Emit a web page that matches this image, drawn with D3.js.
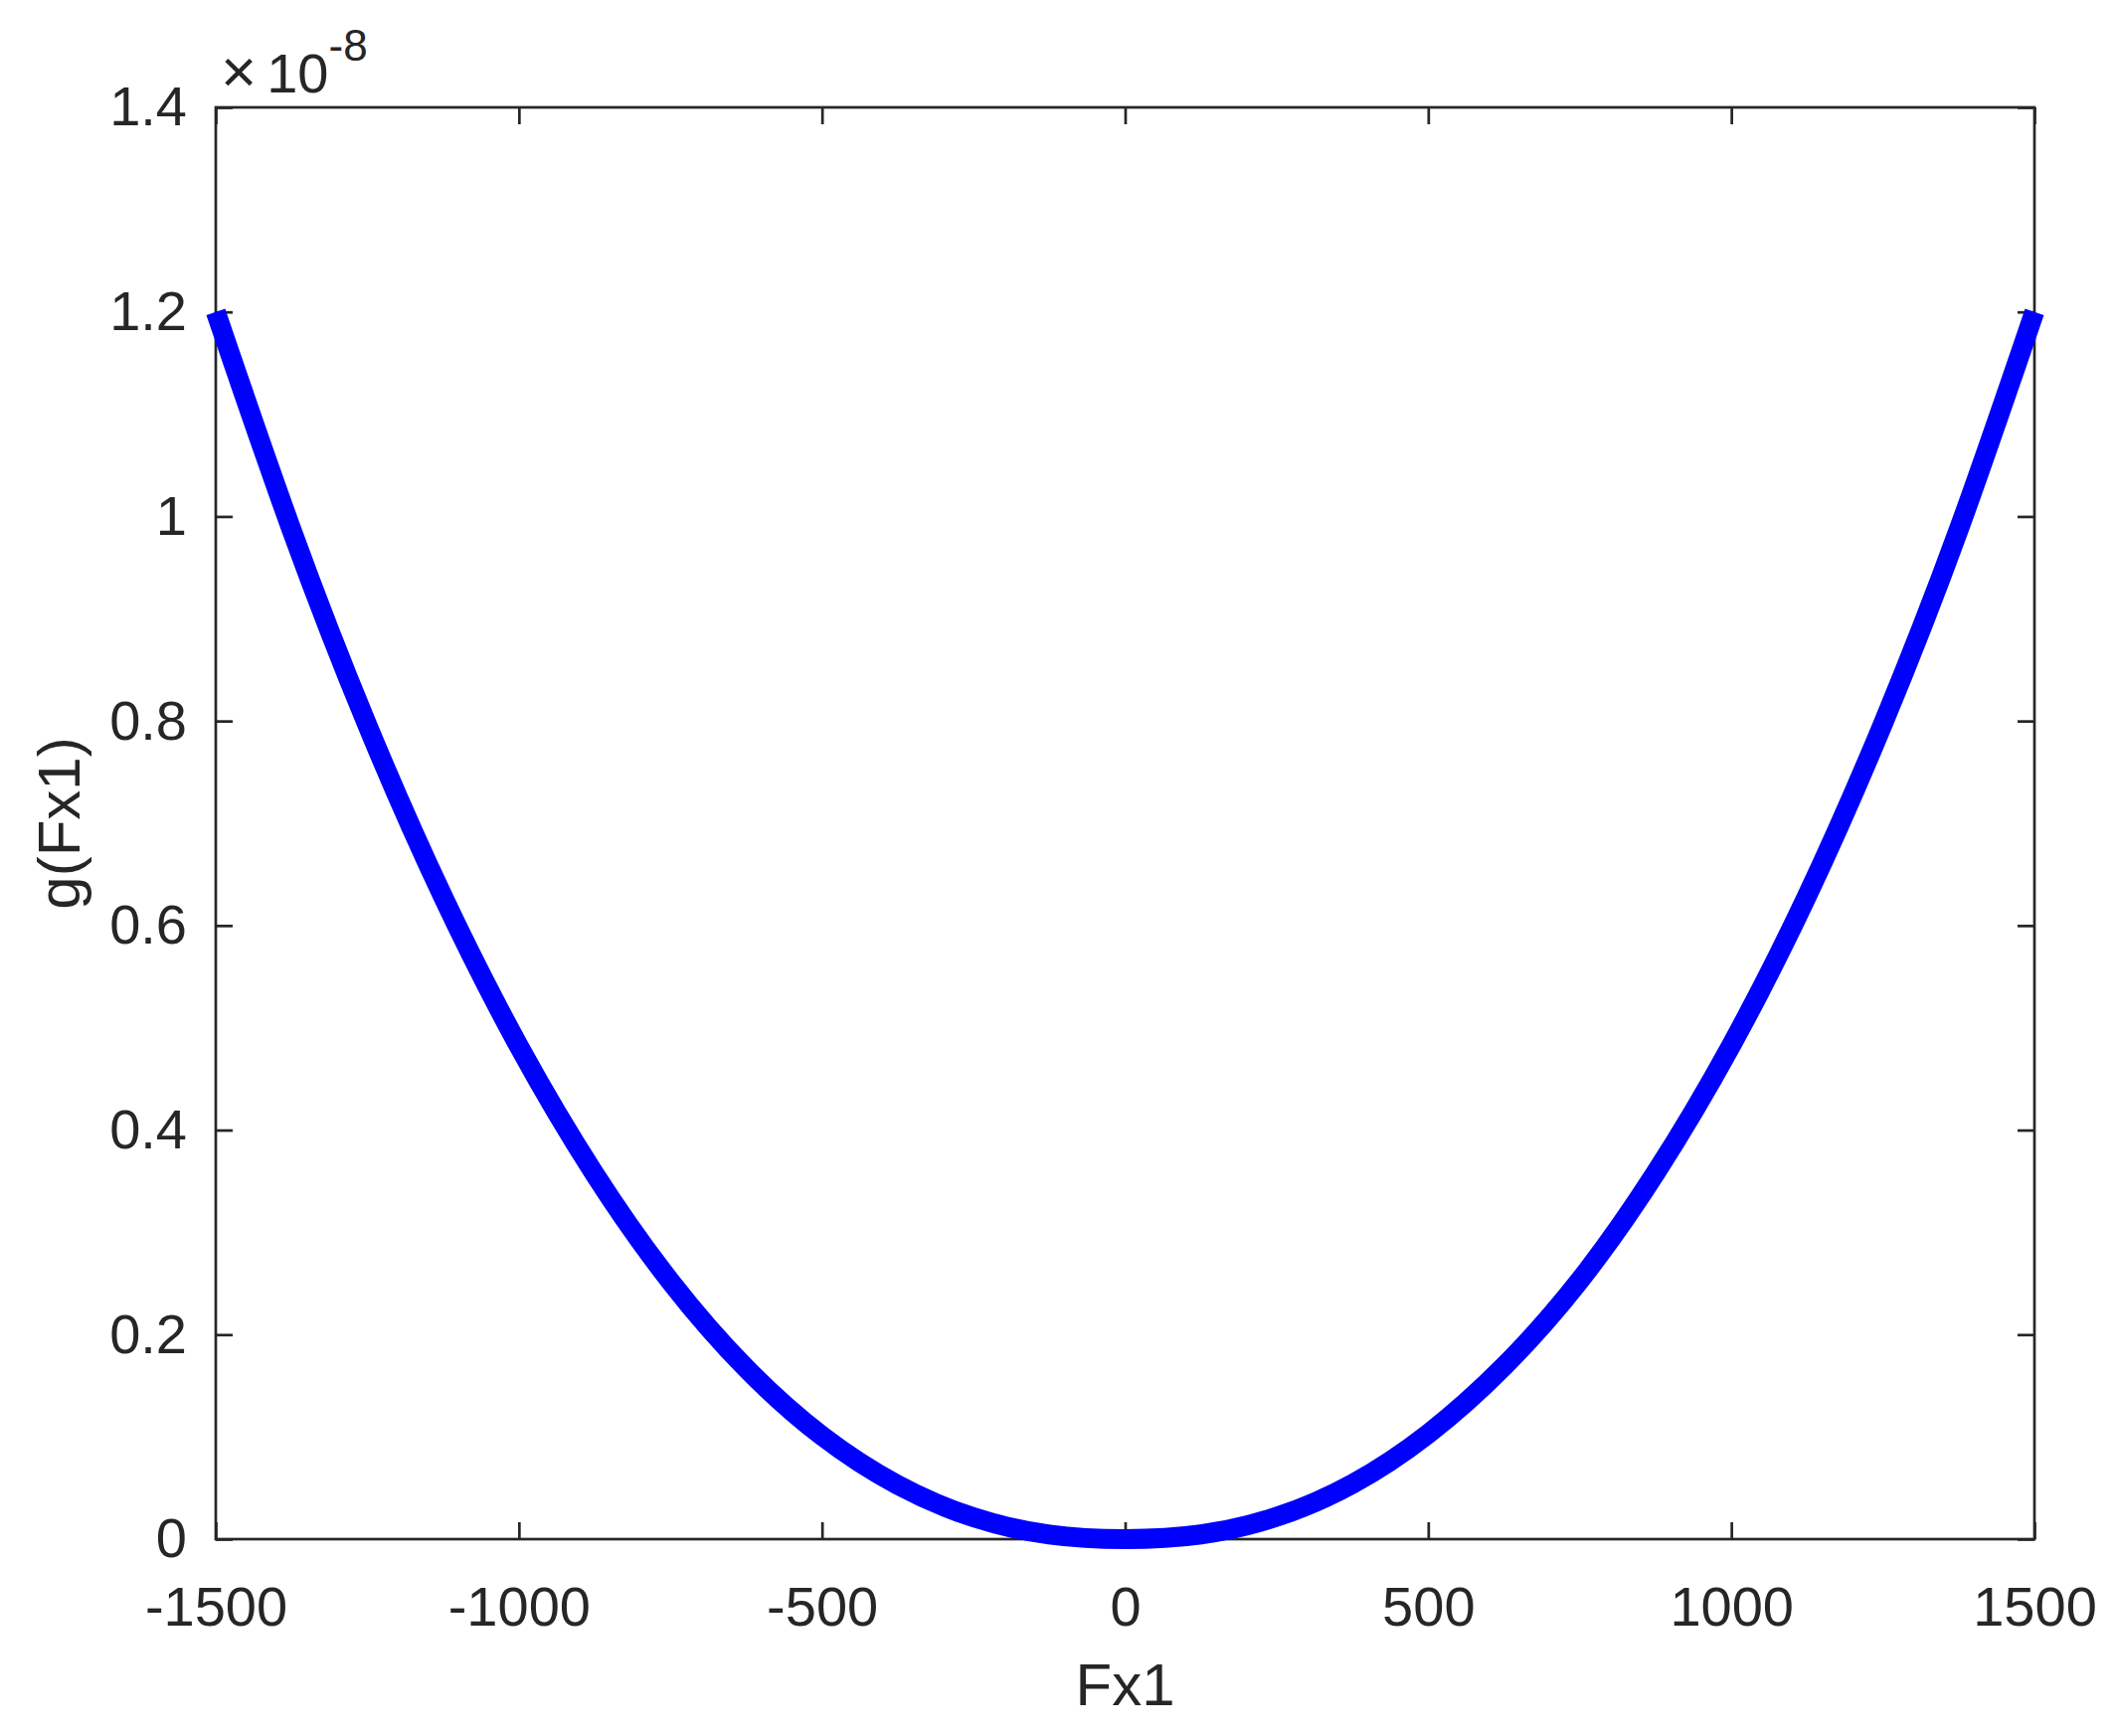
<!DOCTYPE html>
<html>
<head>
<meta charset="utf-8">
<script src="https://cdn.jsdelivr.net/npm/d3@7"></script>
<style>
  body { margin: 0; background: #fff; }
  svg { display: block; font-family: "Liberation Sans", Arial, sans-serif; }
</style>
</head>
<body>
<div id="chart"></div>
<script>
// values, g in units of 1e-8
var fx = [-1500, -1375, -1250, -1125, -1000, -875, -750, -625, -500, -375, -250, -125, 0,
          125, 250, 375, 500, 625, 750, 875, 1000, 1125, 1250, 1375, 1500];
var gv = [1.20, 0.987, 0.796, 0.628, 0.482, 0.357, 0.252, 0.167, 0.101, 0.053, 0.0213, 0.0045, 0,
          0.0046, 0.0218, 0.054, 0.103, 0.169, 0.253, 0.358, 0.483, 0.629, 0.797, 0.987, 1.20];
var xTicks = [-1500, -1000, -500, 0, 500, 1000, 1500];
var yTicks = [0, 0.2, 0.4, 0.6, 0.8, 1, 1.2, 1.4];

var W = 2126, H = 1746;
var margin = {left: 217, right: 80, top: 108, bottom: 198};
var width = W - margin.left - margin.right;
var height = H - margin.top - margin.bottom;
var ink = "#262626";

var svg = d3.select("#chart").append("svg")
    .attr("width", W)
    .attr("height", H);

var g = svg.append("g")
    .attr("transform", "translate(" + margin.left + "," + margin.top + ")");

var x = d3.scaleLinear().domain([-1500, 1500]).range([0, width]);
var y = d3.scaleLinear().domain([0, 1.4]).range([height, 0]);

var tick = 17;

function styleAxis(sel) {
    sel.select(".domain").remove();
    sel.selectAll("line").attr("stroke", ink).attr("stroke-width", 2.7);
    sel.selectAll("text").attr("fill", ink).style("font-size", "56px");
}

// bottom
g.append("g")
    .attr("transform", "translate(0," + height + ")")
    .call(d3.axisBottom(x).tickValues(xTicks).tickSizeInner(-tick).tickSizeOuter(0)
        .tickPadding(47).tickFormat(function(d){ return String(d); }))
    .call(styleAxis);

// top, ticks only
g.append("g")
    .call(d3.axisTop(x).tickValues(xTicks).tickSizeInner(-tick).tickSizeOuter(0).tickFormat(""))
    .call(styleAxis);

// left
g.append("g")
    .call(d3.axisLeft(y).tickValues(yTicks).tickSizeInner(-tick).tickSizeOuter(0)
        .tickPadding(29).tickFormat(function(d){ return d === 0 || d === 1 ? String(d) : d3.format(".1f")(d); }))
    .call(styleAxis);

// right, ticks only
g.append("g")
    .attr("transform", "translate(" + width + ",0)")
    .call(d3.axisRight(y).tickValues(yTicks).tickSizeInner(-tick).tickSizeOuter(0).tickFormat(""))
    .call(styleAxis);

// box
g.append("rect")
    .attr("x", 0).attr("y", 0)
    .attr("width", width).attr("height", height)
    .attr("fill", "none")
    .attr("stroke", ink)
    .attr("stroke-width", 2.7);

// curve
var pts = fx.map(function(d, i){ return [d, gv[i]]; });
var line = d3.line()
    .x(function(d){ return x(d[0]); })
    .y(function(d){ return y(d[1]); })
    .curve(d3.curveNatural);

g.append("path")
    .datum(pts)
    .attr("d", line)
    .attr("fill", "none")
    .attr("stroke", "#0000ff")
    .attr("stroke-width", 20)
    .attr("stroke-linejoin", "round")
    .attr("stroke-linecap", "butt");

// exponent label
var ex = svg.append("text")
    .attr("x", 222)
    .attr("y", 93)
    .attr("fill", ink)
    .style("font-size", "56px");
ex.append("tspan").style("font-size", "62px").style("font-weight", "300").text("\u00d7");
ex.append("tspan").attr("dx", 10).text("10");
ex.append("tspan").attr("dy", -32).style("font-size", "44px").text("-8");

// axis labels
svg.append("text")
    .attr("x", margin.left + width / 2)
    .attr("y", 1715)
    .attr("text-anchor", "middle")
    .attr("fill", ink)
    .style("font-size", "60px")
    .text("Fx1");

svg.append("text")
    .attr("transform", "translate(80," + (margin.top + height / 2) + ") rotate(-90)")
    .attr("text-anchor", "middle")
    .attr("fill", ink)
    .style("font-size", "60px")
    .text("g(Fx1)");
</script>
</body>
</html>
